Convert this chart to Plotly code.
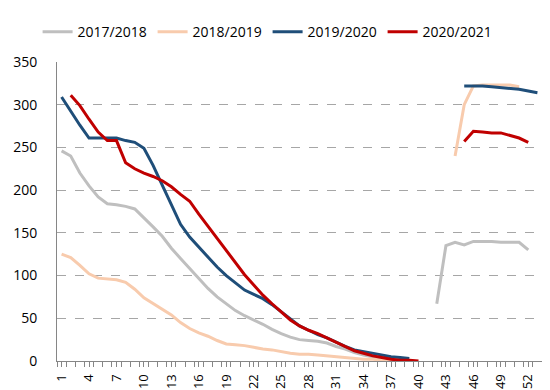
import plotly.graph_objects as go

weeks = list(range(1, 54))

s2017 = ([246, 240, 220, 205, 192, 184, 183, 181, 178, 168, 157, 146, 132, 120, 108, 96, 85, 75, 67,
          59, 53, 48, 43, 37, 32, 28, 25, 24, 23, 21, 17, 14, 10, 7, 5, 3, 2, 1]
         + [None] * 3
         + [67, 135, 139, 136, 140, 140, 140, 139, 139, 139, 130]
         + [None])

s2018 = ([125, 121, 112, 102, 97, 96, 95, 92, 84, 74, 67, 61, 54, 45, 38, 33, 29, 24, 20, 19, 18,
          16, 14, 13, 11, 9, 8, 8, 7, 6, 5, 4, 3, 2, 2, 1, 1, 0]
         + [None] * 5
         + [240, 300, 322, 323, 323, 323, 323, 321]
         + [None] * 2)

s2019 = ([309, 292, 276, 261, 261, 261, 261, 258, 256, 249, 229, 206, 182, 160, 145, 133, 122, 110,
          100, 91, 83, 78, 73, 66, 58, 49, 41, 36, 31, 27, 22, 17, 13, 11, 9, 7, 5, 4, 3]
         + [None] * 5
         + [322, 322, 322, 321, 320, 319, 318, 316, 314])

s2020 = ([None]
         + [311, 299, 283, 268, 258, 258, 232, 225, 220, 216, 211, 204, 195, 187, 172, 158, 144, 130,
            116, 101, 89, 77, 67, 57, 48, 41, 36, 32, 27, 22, 17, 12, 9, 6, 4, 2, 1, 1, 0]
         + [None] * 4
         + [257, 269, 268, 267, 267, 264, 261, 256]
         + [None])

series_names = ["2017/2018", "2018/2019", "2019/2020", "2020/2021"]
series_vals = [s2017, s2018, s2019, s2020]
colors = ["#BFBFBF", "#F8CBAD", "#1F4E79", "#C00000"]

tick_weeks = list(range(1, 54, 3))
y_ticks = [0, 50, 100, 150, 200, 250, 300, 350]

fig = go.Figure()
for name, vals, col in zip(series_names, series_vals, colors):
    fig.add_trace(go.Scatter(x=weeks, y=vals, name=name, mode="lines",
                             line=dict(color=col, width=3), connectgaps=False))

font = "Open Sans, Noto Sans, sans-serif"
fig.update_layout(
    width=550, height=390,
    margin=dict(l=49, r=16, t=54, b=37, autoexpand=False),
    paper_bgcolor="white", plot_bgcolor="white",
    font=dict(family=font, size=14, color="#000000"),
    legend=dict(orientation="h", x=-0.04, xanchor="left", y=1.10, yanchor="middle",
                font=dict(size=14), entrywidth=70, entrywidthmode="pixels",
                itemwidth=30, tracegroupgap=0),
    showlegend=True,
)
fig.update_xaxes(
    range=[0.5, 53.5], tickmode="array", tickvals=tick_weeks,
    ticktext=[str(w) for w in tick_weeks], tickangle=-90,
    showgrid=False, zeroline=False, automargin=False,
    showline=True, linecolor="#868686", linewidth=1,
    ticks="outside", ticklen=5, tickcolor="#868686",
    minor=dict(ticks="outside", ticklen=5, tickcolor="#868686", tick0=0.5, dtick=1, showgrid=False),
    tickfont=dict(size=13), ticklabelstandoff=2,
)
fig.update_yaxes(
    range=[0, 350], tickmode="array", tickvals=y_ticks,
    showgrid=True, gridcolor="#A6A6A6", griddash="dash", gridwidth=1,
    zeroline=False, showline=True, linecolor="#868686", linewidth=1, automargin=False,
    ticks="", tickfont=dict(size=14), ticklabelstandoff=16,
)

fig.write_html("out.html")
